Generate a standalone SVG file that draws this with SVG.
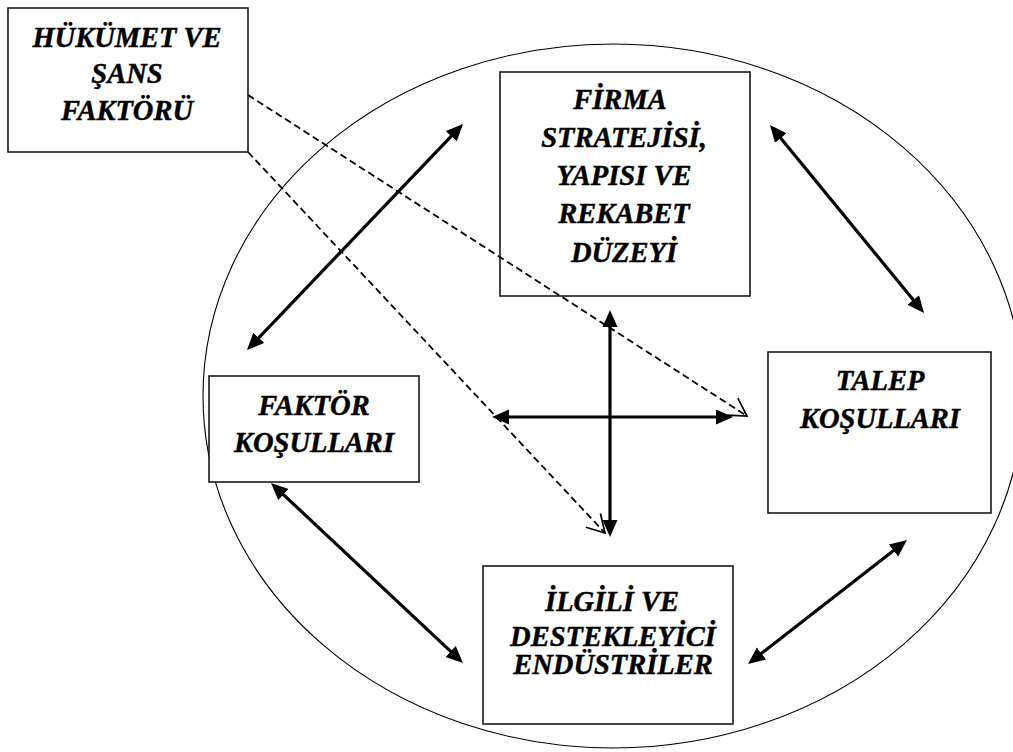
<svg xmlns="http://www.w3.org/2000/svg" width="1013" height="752" viewBox="0 0 1013 752">
<style>
.box{fill:#fff;stroke:#1a1a1a;stroke-width:1.6}
.t{font-family:"Liberation Serif","Times New Roman",serif;font-weight:bold;font-style:italic;font-size:28.5px;fill:#000;stroke:#000;stroke-width:0.45;text-anchor:middle}
.solid{stroke:#000;stroke-width:3.2;fill:none;marker-start:url(#ah);marker-end:url(#ah)}
.dash{stroke:#000;stroke-width:1.8;fill:none;stroke-dasharray:7 4;marker-end:url(#oa)}
</style>
<defs>
<marker id="ah" markerUnits="userSpaceOnUse" markerWidth="18" markerHeight="16" viewBox="0 0 18 16" refX="7" refY="8" orient="auto-start-reverse">
<path d="M0,0.5 L17,8 L0,15.5 z" fill="#000"/>
</marker>
<marker id="oa" markerUnits="userSpaceOnUse" markerWidth="24" markerHeight="26" viewBox="-3 -13 24 26" refX="18" refY="0" orient="auto">
<path d="M0.7,-10 L18,0 L0.7,10" fill="none" stroke="#000" stroke-width="1.7"/>
</marker>
</defs>
<rect width="1013" height="752" fill="#fff"/>
<ellipse id="circle" cx="613" cy="396" rx="410" ry="352" fill="none" stroke="#000" stroke-width="1.1"/>
<g id="hukumet">
<rect class="box" x="8" y="8" width="240" height="144"/>
<text class="t" x="127" y="47">HÜKÜMET VE</text>
<text class="t" x="127" y="83">ŞANS</text>
<text class="t" x="127" y="120">FAKTÖRÜ</text>
</g>
<g id="firma">
<rect class="box" x="500" y="72" width="250" height="224"/>
<text class="t" x="620" y="109">FİRMA</text>
<text class="t" x="624" y="147">STRATEJİSİ,</text>
<text class="t" x="624" y="185">YAPISI VE</text>
<text class="t" x="624" y="223">REKABET</text>
<text class="t" x="624" y="262">DÜZEYİ</text>
</g>
<g id="faktor">
<rect class="box" x="209" y="376" width="210" height="106"/>
<text class="t" x="314" y="415">FAKTÖR</text>
<text class="t" x="314" y="452">KOŞULLARI</text>
</g>
<g id="talep">
<rect class="box" x="768" y="352" width="223" height="161"/>
<text class="t" x="880" y="390">TALEP</text>
<text class="t" x="880" y="428">KOŞULLARI</text>
</g>
<g id="ilgili">
<rect class="box" x="483" y="566" width="250" height="158"/>
<text class="t" x="612" y="611">İLGİLİ VE</text>
<text class="t" x="613" y="646">DESTEKLEYİCİ</text>
<text class="t" x="613" y="674">ENDÜSTRİLER</text>
</g>
<g id="connectors">
<line class="solid" x1="456.1" y1="131.2" x2="253.9" y2="342.8"/>
<line class="solid" x1="776.3" y1="132.7" x2="917.7" y2="305.3"/>
<line class="solid" x1="278.3" y1="489.8" x2="455.7" y2="656.2"/>
<line class="solid" x1="899.1" y1="546.2" x2="755.9" y2="657.8"/>
<line class="solid" x1="610" y1="320" x2="610" y2="527"/>
<line class="solid" x1="502" y1="417" x2="723" y2="417"/>
<line class="dash" x1="248" y1="95" x2="747" y2="416"/>
<line class="dash" x1="248" y1="152" x2="605" y2="533"/>
</g>
</svg>
